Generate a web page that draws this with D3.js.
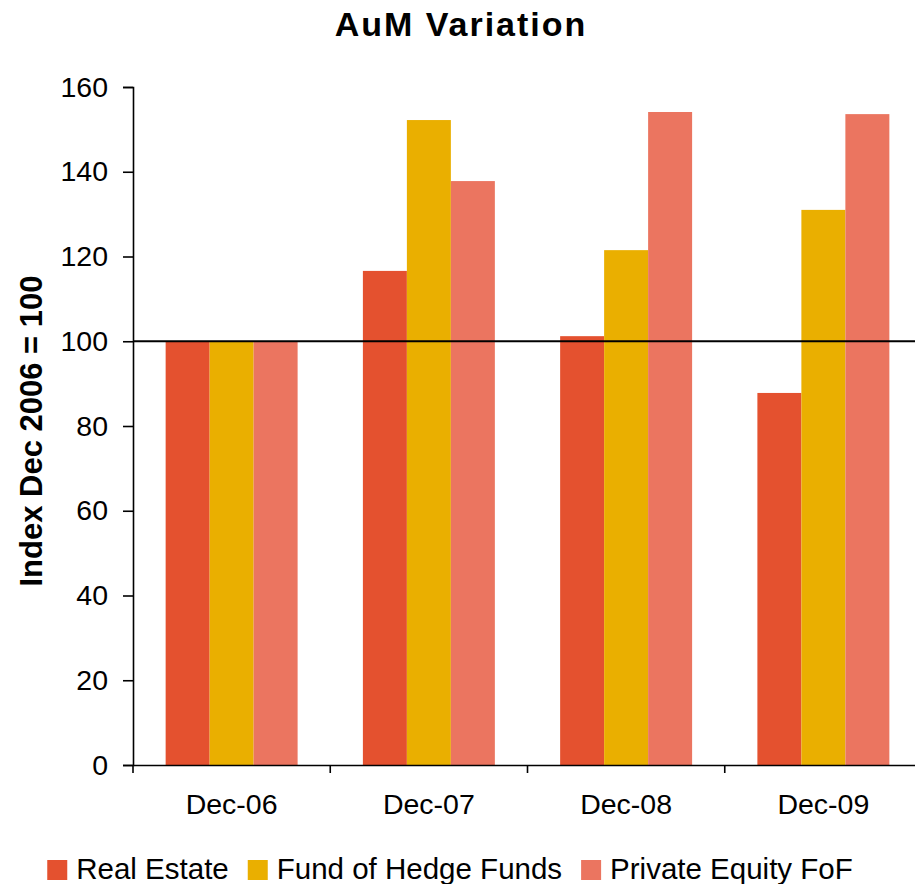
<!DOCTYPE html>
<html>
<head>
<meta charset="utf-8">
<script src="https://cdn.jsdelivr.net/npm/d3@7"></script>
<style>
  html, body { margin: 0; padding: 0; background: #fff; }
  svg { display: block; }
  text { font-family: "Liberation Sans", Arial, sans-serif; fill: #000; }
</style>
</head>
<body>
<svg id="chart" width="915" height="884"></svg>
<script>
const categories = ["Dec-06", "Dec-07", "Dec-08", "Dec-09"];
const seriesNames = ["Real Estate", "Fund of Hedge Funds", "Private Equity FoF"];
const realEstate = [100, 116.6, 101.2, 87.8];
const fundOfHedgeFunds = [100, 152.2, 121.5, 131.0];
const privateEquityFoF = [100, 137.8, 154.1, 153.6];
const yTicks = [0, 20, 40, 60, 80, 100, 120, 140, 160];
const seriesColors = ["#E4512F", "#EAAF00", "#EB7560"];
const baselineValue = 100;

const seriesValues = [realEstate, fundOfHedgeFunds, privateEquityFoF];
const data = categories.map((c, i) => ({
  cat: c,
  vals: seriesNames.map((s, j) => ({ name: s, value: seriesValues[j][i] }))
}));

const svg = d3.select("#chart");
const plotLeft = 133, plotRight = 922, plotTop = 87, plotBottom = 765;

const x = d3.scaleBand().domain(categories).range([plotLeft, plotRight]).paddingInner(0).paddingOuter(0);
const xs = d3.scaleBand().domain(seriesNames).range([0, x.bandwidth()]).paddingInner(0).paddingOuter(0.742);
const y = d3.scaleLinear().domain([0, 160]).range([plotBottom, plotTop]);
const color = d3.scaleOrdinal().domain(seriesNames).range(seriesColors);

// Bars
const groups = svg.append("g").selectAll("g").data(data).join("g")
  .attr("transform", d => `translate(${x(d.cat)},0)`);
groups.selectAll("rect").data(d => d.vals).join("rect")
  .attr("x", d => xs(d.name))
  .attr("width", xs.bandwidth())
  .attr("y", d => y(d.value))
  .attr("height", d => y(0) - y(d.value))
  .attr("fill", d => color(d.name));

// Y axis
const yAxis = svg.append("g").attr("transform", `translate(${plotLeft},0)`)
  .call(d3.axisLeft(y).tickValues(yTicks).tickSize(10).tickPadding(15));
yAxis.select(".domain").attr("stroke", "#000").attr("stroke-width", 1.6);
yAxis.selectAll(".tick line").attr("stroke", "#000").attr("stroke-width", 1.6);
yAxis.selectAll(".tick text").attr("font-size", 28.5).attr("font-family", "Liberation Sans, Arial, sans-serif");

// X axis
const xAxis = svg.append("g").attr("transform", `translate(0,${plotBottom})`)
  .call(d3.axisBottom(x).tickSize(0).tickPadding(0));
xAxis.select(".domain").attr("stroke", "#000").attr("stroke-width", 1.6);
xAxis.selectAll(".tick text").attr("font-size", 28.5).attr("y", 49).attr("dy", 0)
  .attr("font-family", "Liberation Sans, Arial, sans-serif");
const boundaries = categories.map(c => x(c)).concat([x(categories[categories.length - 1]) + x.bandwidth()]);
xAxis.append("g").selectAll("line").data(boundaries).join("line")
  .attr("x1", d => d).attr("x2", d => d).attr("y1", 0).attr("y2", 8)
  .attr("stroke", "#000").attr("stroke-width", 1.6);

// Baseline at 100
svg.append("line")
  .attr("x1", plotLeft).attr("x2", 915)
  .attr("y1", y(baselineValue)).attr("y2", y(baselineValue))
  .attr("stroke", "#000").attr("stroke-width", 2);

// Title
svg.append("text").attr("x", 461).attr("y", 36).attr("text-anchor", "middle")
  .attr("font-size", 34).attr("font-weight", "bold").attr("letter-spacing", 2)
  .text("AuM Variation");

// Y title
svg.append("text").attr("transform", "translate(42,431) rotate(-90)")
  .attr("text-anchor", "middle").attr("font-size", 31).attr("font-weight", "bold")
  .text("Index Dec 2006 = 100");

// Legend
const legend = svg.append("g");
let lx = 0;
seriesNames.forEach((s, i) => {
  const g = legend.append("g").attr("transform", `translate(${lx},0)`);
  g.append("rect").attr("x", 0).attr("y", 860).attr("width", 20).attr("height", 20).attr("fill", color(s));
  const t = g.append("text").attr("x", 29).attr("y", 879).attr("font-size", 29.5).text(s);
  lx += 29 + t.node().getComputedTextLength() + 19;
});
const legendWidth = lx - 19;
legend.attr("transform", `translate(${450 - legendWidth / 2},0)`);
</script>
</body>
</html>
